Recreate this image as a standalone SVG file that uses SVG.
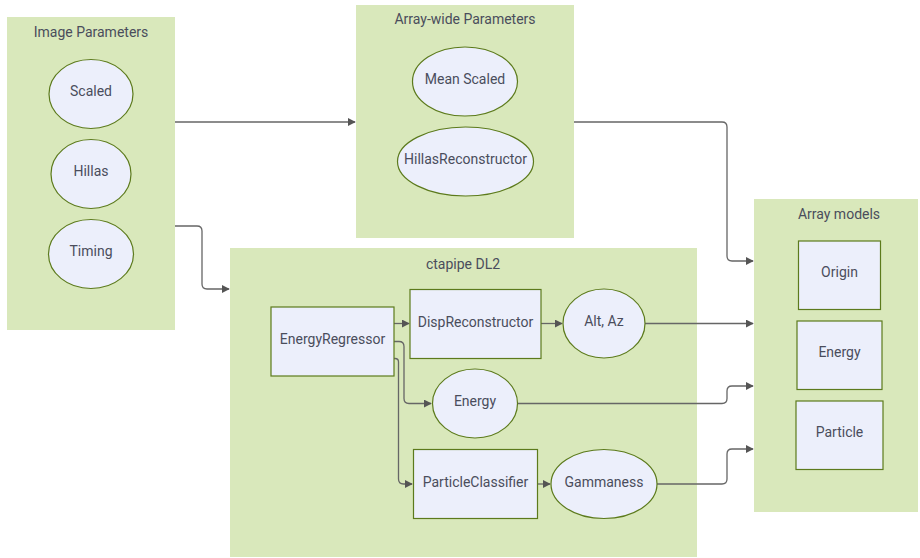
<svg xmlns="http://www.w3.org/2000/svg" width="920" height="558" viewBox="0 0 920 558">
<defs>
<marker id="arr" viewBox="0 0 10 10" refX="9" refY="5" markerWidth="8" markerHeight="8" markerUnits="userSpaceOnUse" orient="auto">
<path d="M0,0 L10,5 L0,10 z" fill="#555"/>
</marker>
<style>
.cl{fill:#d9e8bb;stroke:none}
.nd{fill:#eceffb;stroke:#5c7a1c;stroke-width:1.2}
.t{font-family:Roboto,"Noto Sans",sans-serif;font-size:14px;fill:#4a4d5c;text-anchor:middle;dominant-baseline:central}
.e{fill:none;stroke:#666;stroke-width:1.3;marker-end:url(#arr)}
</style>
</defs>
<rect width="920" height="558" fill="#fff"/>
<g id="cluster-image-parameters">
<rect class="cl" x="7" y="17" width="168" height="313"/>
<text class="t" x="91" y="32">Image Parameters</text>
</g>
<g id="cluster-array-wide">
<rect class="cl" x="356" y="5" width="218" height="233"/>
<text class="t" x="465" y="19">Array-wide Parameters</text>
</g>
<g id="cluster-ctapipe-dl2">
<rect class="cl" x="230" y="248" width="467" height="309"/>
<text class="t" x="463" y="264">ctapipe DL2</text>
</g>
<g id="cluster-array-models">
<rect class="cl" x="754" y="199" width="164" height="313"/>
<text class="t" x="839" y="214">Array models</text>
</g>
<g id="connectors">
<path class="e" d="M175,122 H355"/>
<path class="e" d="M175,226 H197 Q202,226 202,231 V284 Q202,289 207,289 H229"/>
<path class="e" d="M574,122 H722 Q727,122 727,127 V256 Q727,261 732,261 H753"/>
<path class="e" d="M645,323.5 H753"/>
<path class="e" d="M518,403.5 H722 Q727,403.5 727,398.5 V391 Q727,386 732,386 H753"/>
<path class="e" d="M657,484 H722 Q727,484 727,479 V454 Q727,449 732,449 H753"/>
<path class="e" d="M394,323.5 H409"/>
<path class="e" d="M541,323.5 H562"/>
<path class="e" d="M394,341.5 H399 Q404,341.5 404,346.5 V398.5 Q404,403.5 409,403.5 H431"/>
<path class="e" d="M394,358.5 H395 Q398.5,358.5 398.5,362 V479 Q398.5,484 403.5,484 H412"/>
<path class="e" d="M538,484 H550"/>
</g>
<g id="node-scaled"><ellipse class="nd" cx="91" cy="94" rx="42" ry="34.5"/><text class="t" x="91" y="91">Scaled</text></g>
<g id="node-hillas"><ellipse class="nd" cx="91" cy="174" rx="40" ry="34.5"/><text class="t" x="91" y="171">Hillas</text></g>
<g id="node-timing"><ellipse class="nd" cx="91" cy="254" rx="42.5" ry="34.5"/><text class="t" x="91" y="251">Timing</text></g>
<g id="node-mean-scaled"><ellipse class="nd" cx="465" cy="81.5" rx="52.5" ry="34.5"/><text class="t" x="465" y="79">Mean Scaled</text></g>
<g id="node-hillas-reconstructor"><ellipse class="nd" cx="465.5" cy="161.5" rx="68" ry="34.5"/><text class="t" x="465.5" y="159">HillasReconstructor</text></g>
<g id="node-energy-regressor"><rect class="nd" x="271" y="307" width="123" height="69"/><text class="t" x="332.5" y="339">EnergyRegressor</text></g>
<g id="node-disp-reconstructor"><rect class="nd" x="410" y="289.5" width="131" height="69"/><text class="t" x="475.5" y="322">DispReconstructor</text></g>
<g id="node-alt-az"><ellipse class="nd" cx="604" cy="323.5" rx="41" ry="34.5"/><text class="t" x="604" y="321">Alt, Az</text></g>
<g id="node-energy-dl2"><ellipse class="nd" cx="475" cy="403.5" rx="42.5" ry="34.5"/><text class="t" x="475" y="401">Energy</text></g>
<g id="node-particle-classifier"><rect class="nd" x="413.5" y="449.5" width="124" height="69"/><text class="t" x="475.5" y="482">ParticleClassifier</text></g>
<g id="node-gammaness"><ellipse class="nd" cx="604" cy="484" rx="53" ry="34.5"/><text class="t" x="604" y="481.5">Gammaness</text></g>
<g id="node-origin"><rect class="nd" x="798.5" y="241" width="82" height="68.5"/><text class="t" x="839.5" y="272">Origin</text></g>
<g id="node-energy-model"><rect class="nd" x="797" y="321" width="85" height="68.5"/><text class="t" x="839.5" y="352">Energy</text></g>
<g id="node-particle"><rect class="nd" x="796" y="401" width="87" height="68.5"/><text class="t" x="839.5" y="432">Particle</text></g>
</svg>
